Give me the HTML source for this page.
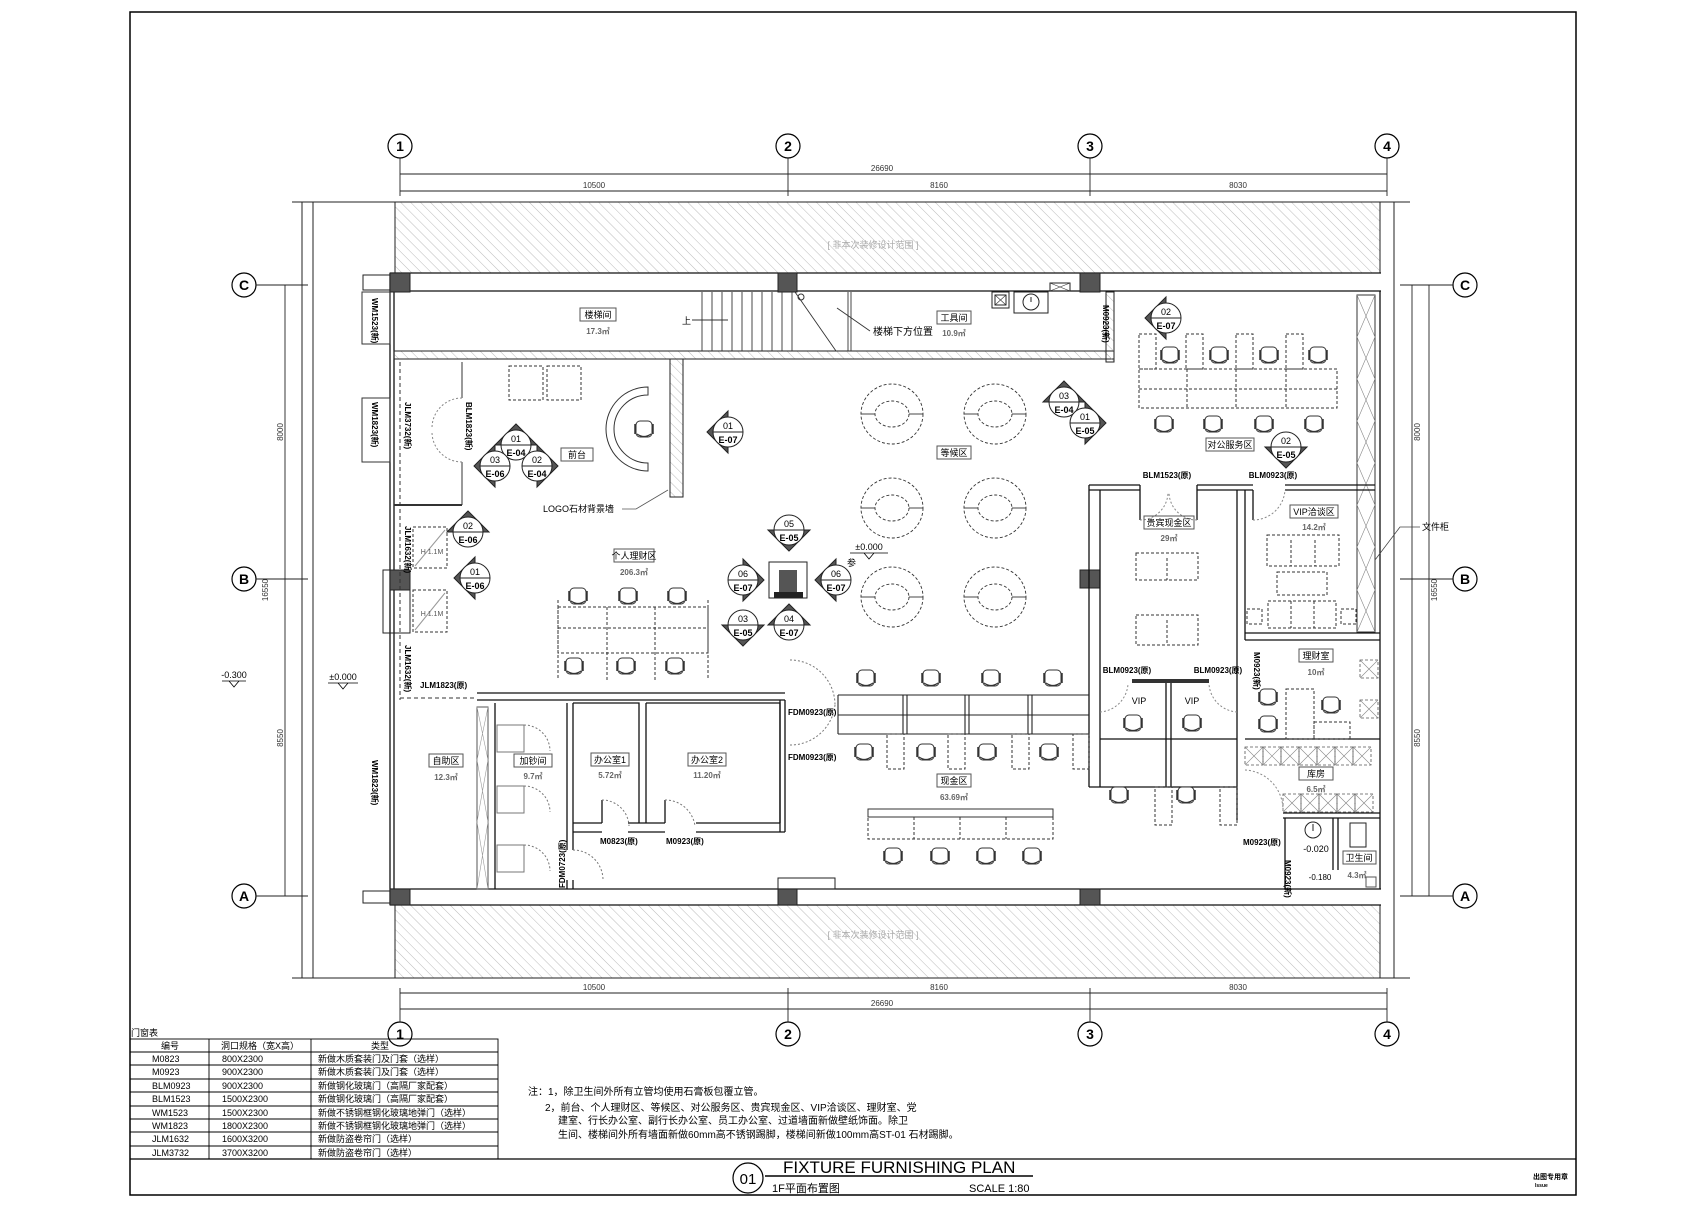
<!DOCTYPE html>
<html><head><meta charset="utf-8"><style>
html,body{margin:0;padding:0;background:#fff;}
svg{display:block;}
text{font-family:"Liberation Sans","Noto Sans CJK SC",sans-serif;}
</style></head><body>
<svg width="1707" height="1207" viewBox="0 0 1707 1207" xmlns="http://www.w3.org/2000/svg">
<defs>
<pattern id="h" width="7" height="7" patternUnits="userSpaceOnUse" patternTransform="rotate(-45)"><line x1="0" y1="0" x2="0" y2="7" stroke="#aaa" stroke-width="0.8"/></pattern>
<g id="ch"><rect x="-8" y="-8" width="16" height="16" rx="4" fill="#fff" stroke="#333" stroke-width="1"/><path d="M-7,5 Q0,10 7,5" fill="none" stroke="#333" stroke-width="1.2"/><line x1="-9" y1="-5" x2="-9" y2="5" stroke="#333" stroke-width="1.5"/><line x1="9" y1="-5" x2="9" y2="5" stroke="#333" stroke-width="1.5"/></g>
<g id="wt"><ellipse cx="0" cy="0" rx="31" ry="30" fill="none" stroke="#333" stroke-width="0.9" stroke-dasharray="3,2"/><ellipse cx="0" cy="0" rx="17" ry="13" fill="none" stroke="#333" stroke-width="0.9" stroke-dasharray="3,2"/><line x1="-31" y1="0" x2="-17" y2="0" stroke="#333" stroke-width="0.9"/><line x1="17" y1="0" x2="31" y2="0" stroke="#333" stroke-width="0.9"/></g>
<g id="xb"><rect x="0" y="0" width="18" height="18" fill="none" stroke="#555" stroke-width="0.8" stroke-dasharray="3,2"/><path d="M0,0L18,18M18,0L0,18" stroke="#888" stroke-width="0.6"/></g>
</defs>

<!-- frame -->
<rect x="130" y="12" width="1446" height="1183" fill="none" stroke="#000" stroke-width="1.5"/>
<line x1="130" y1="1159" x2="1576" y2="1159" stroke="#000" stroke-width="1.2"/>

<!-- slab outline -->
<g stroke="#222" stroke-width="1" fill="none">
<line x1="292" y1="202" x2="1410" y2="202"/>
<line x1="292" y1="978" x2="1410" y2="978"/>
<line x1="302" y1="202" x2="302" y2="978"/>
<line x1="313" y1="202" x2="313" y2="978"/>
<line x1="1394" y1="202" x2="1394" y2="978"/>
</g>
<rect x="395" y="202" width="985" height="71" fill="url(#h)" stroke="#222" stroke-width="1"/>
<rect x="395" y="905" width="985" height="73" fill="url(#h)" stroke="#222" stroke-width="1"/>
<text x="873" y="248" font-size="9" fill="#aaa" text-anchor="middle">[ 非本次装修设计范围 ]</text>
<text x="873" y="938" font-size="9" fill="#aaa" text-anchor="middle">[ 非本次装修设计范围 ]</text>

<!-- grid bubbles -->
<g stroke="#000" stroke-width="1.2" fill="#fff">
<circle cx="400" cy="146" r="12"/><circle cx="788" cy="146" r="12"/><circle cx="1090" cy="146" r="12"/><circle cx="1387" cy="146" r="12"/>
<circle cx="400" cy="1034" r="12"/><circle cx="788" cy="1034" r="12"/><circle cx="1090" cy="1034" r="12"/><circle cx="1387" cy="1034" r="12"/>
<circle cx="244" cy="285" r="12"/><circle cx="244" cy="579" r="12"/><circle cx="244" cy="896" r="12"/>
<circle cx="1465" cy="285" r="12"/><circle cx="1465" cy="579" r="12"/><circle cx="1465" cy="896" r="12"/>
</g>
<g font-size="14" font-weight="bold" text-anchor="middle">
<text x="400" y="151">1</text><text x="788" y="151">2</text><text x="1090" y="151">3</text><text x="1387" y="151">4</text>
<text x="400" y="1039">1</text><text x="788" y="1039">2</text><text x="1090" y="1039">3</text><text x="1387" y="1039">4</text>
<text x="244" y="290">C</text><text x="244" y="584">B</text><text x="244" y="901">A</text>
<text x="1465" y="290">C</text><text x="1465" y="584">B</text><text x="1465" y="901">A</text>
</g>
<g stroke="#222" stroke-width="0.9">
<line x1="400" y1="158" x2="400" y2="196"/><line x1="788" y1="158" x2="788" y2="196"/><line x1="1090" y1="158" x2="1090" y2="196"/><line x1="1387" y1="158" x2="1387" y2="196"/>
<line x1="400" y1="988" x2="400" y2="1022"/><line x1="788" y1="988" x2="788" y2="1022"/><line x1="1090" y1="988" x2="1090" y2="1022"/><line x1="1387" y1="988" x2="1387" y2="1022"/>
<line x1="400" y1="174" x2="1387" y2="174"/><line x1="400" y1="191" x2="1387" y2="191"/>
<line x1="400" y1="993" x2="1387" y2="993"/><line x1="400" y1="1009" x2="1387" y2="1009"/>
<line x1="256" y1="285" x2="308" y2="285"/><line x1="256" y1="579" x2="308" y2="579"/><line x1="256" y1="896" x2="308" y2="896"/>
<line x1="1400" y1="285" x2="1453" y2="285"/><line x1="1400" y1="579" x2="1453" y2="579"/><line x1="1400" y1="896" x2="1453" y2="896"/>
<line x1="285" y1="285" x2="285" y2="896"/><line x1="302" y1="285" x2="302" y2="896"/>
<line x1="1412" y1="285" x2="1412" y2="896"/><line x1="1429" y1="285" x2="1429" y2="896"/>
</g>
<g font-size="8" fill="#333" text-anchor="middle">
<text x="882" y="171">26690</text><text x="594" y="188">10500</text><text x="939" y="188">8160</text><text x="1238" y="188">8030</text>
<text x="594" y="990">10500</text><text x="939" y="990">8160</text><text x="1238" y="990">8030</text><text x="882" y="1006">26690</text>
<text transform="translate(283,432) rotate(-90)">8000</text><text transform="translate(268,590) rotate(-90)">16550</text><text transform="translate(283,738) rotate(-90)">8550</text>
<text transform="translate(1420,432) rotate(-90)">8000</text><text transform="translate(1437,590) rotate(-90)">16550</text><text transform="translate(1420,738) rotate(-90)">8550</text>
</g>
<text x="234" y="678" font-size="9" text-anchor="middle">-0.300</text>
<path d="M222,681H246M229,681L234,687L239,681" stroke="#000" fill="none" stroke-width="0.8"/>
<text x="343" y="680" font-size="9" text-anchor="middle">±0.000</text>
<path d="M328,683H358M338,683L343,689L348,683" stroke="#000" fill="none" stroke-width="0.8"/>

<!-- main walls -->
<g stroke="#111" stroke-width="1.3" fill="none">
<line x1="390" y1="273" x2="1381" y2="273"/><line x1="393" y1="291" x2="1381" y2="291"/>
<line x1="390" y1="889" x2="1381" y2="889"/><line x1="390" y1="905" x2="1381" y2="905"/>
<line x1="390" y1="273" x2="390" y2="905"/><line x1="394" y1="291" x2="394" y2="889"/>
<line x1="1380" y1="291" x2="1380" y2="889"/>
</g>
<!-- columns -->
<g fill="#555" stroke="#222">
<rect x="390" y="273" width="20" height="19"/><rect x="778" y="273" width="19" height="19"/><rect x="1080" y="273" width="20" height="19"/>
<rect x="390" y="889" width="20" height="16"/><rect x="778" y="889" width="19" height="16"/><rect x="1080" y="889" width="20" height="16"/>
<rect x="390" y="570" width="20" height="20"/><rect x="1080" y="570" width="20" height="18"/>
</g>
<g fill="none" stroke="#222" stroke-width="1">
<rect x="363" y="275" width="27" height="15"/><rect x="363" y="891" width="27" height="12"/>
<rect x="383" y="570" width="27" height="63"/><rect x="778" y="878" width="57" height="11"/>
<rect x="1050" y="283" width="20" height="8"/>
</g>
<path d="M1050,283L1070,291M1070,283L1050,291" stroke="#333" stroke-width="0.6"/>

<!-- stair room -->
<rect x="394" y="351" width="720" height="8" fill="url(#h)" stroke="#222"/>
<rect x="1106" y="292" width="8" height="70" fill="url(#h)" stroke="#222"/>
<g stroke="#333" stroke-width="0.9">
<line x1="702" y1="292" x2="702" y2="351"/><line x1="712" y1="292" x2="712" y2="351"/><line x1="722" y1="292" x2="722" y2="351"/><line x1="732" y1="292" x2="732" y2="351"/><line x1="742" y1="292" x2="742" y2="351"/><line x1="752" y1="292" x2="752" y2="351"/><line x1="762" y1="292" x2="762" y2="351"/><line x1="772" y1="292" x2="772" y2="351"/><line x1="782" y1="292" x2="782" y2="351"/><line x1="792" y1="292" x2="792" y2="351"/>
<line x1="848" y1="292" x2="848" y2="351"/><line x1="851" y1="292" x2="851" y2="351"/>
<line x1="795" y1="292" x2="836" y2="351"/>
<line x1="692" y1="320" x2="728" y2="320"/>
<line x1="837" y1="308" x2="870" y2="331"/>
</g>
<circle cx="801" cy="297" r="3" fill="none" stroke="#333"/>
<text x="682" y="324" font-size="9">上</text>
<rect x="580" y="308" width="36" height="13" fill="none" stroke="#555"/>
<text x="598" y="318" font-size="9" text-anchor="middle">楼梯间</text>
<text x="598" y="334" font-size="8" fill="#666" font-weight="bold" text-anchor="middle">17.3㎡</text>
<text x="873" y="335" font-size="10">楼梯下方位置</text>
<rect x="937" y="311" width="34" height="13" fill="none" stroke="#555"/>
<text x="954" y="321" font-size="9" text-anchor="middle">工具间</text>
<text x="954" y="336" font-size="8" fill="#666" font-weight="bold" text-anchor="middle">10.9㎡</text>
<rect x="992" y="292" width="17" height="16" fill="none" stroke="#222"/><rect x="995" y="295" width="11" height="10" fill="none" stroke="#222"/>
<path d="M995,295L1006,305M1006,295L995,305" stroke="#333" stroke-width="0.6"/>
<rect x="1014" y="292" width="34" height="21" fill="none" stroke="#222"/><circle cx="1031" cy="302" r="8" fill="none" stroke="#222"/><line x1="1031" y1="297" x2="1031" y2="302" stroke="#222"/>
<text transform="translate(1103,305) rotate(90)" font-size="8" font-weight="bold">M0923(新)</text>
<path d="M1114,292 L1114,362" stroke="#222"/>

<!-- left zone -->
<g stroke="#333" stroke-width="1" fill="none">
<line x1="400" y1="362" x2="400" y2="700" stroke-dasharray="4,3"/>
<line x1="462" y1="362" x2="462" y2="398"/><line x1="462" y1="462" x2="462" y2="505"/>
<line x1="394" y1="505" x2="462" y2="505" stroke-width="2"/>
<path d="M462,398 A30,30 0 0 0 432,428 M462,462 A30,30 0 0 1 432,432" stroke="#888" stroke-dasharray="2,2"/>
<rect x="362" y="398" width="28" height="64"/>
<rect x="362" y="292" width="28" height="52"/>
<rect x="413" y="527" width="34" height="41" stroke-dasharray="3,2"/><rect x="413" y="590" width="34" height="42" stroke-dasharray="3,2"/>
<line x1="415" y1="566" x2="445" y2="530" stroke="#999"/><line x1="415" y1="630" x2="445" y2="593" stroke="#999"/>
</g>
<text x="432" y="554" font-size="7" text-anchor="middle" fill="#555">H 1.1M</text>
<text x="432" y="616" font-size="7" text-anchor="middle" fill="#555">H 1.1M</text>
<g font-size="8" font-weight="bold">
<text transform="translate(372,298) rotate(90)">WM1523(新)</text>
<text transform="translate(372,402) rotate(90)">WM1823(新)</text>
<text transform="translate(405,402) rotate(90)">JLM3732(新)</text>
<text transform="translate(466,402) rotate(90)">BLM1823(新)</text>
<text transform="translate(405,526) rotate(90)">JLM1632(新)</text>
<text transform="translate(405,645) rotate(90)">JLM1632(新)</text>
<text transform="translate(372,760) rotate(90)">WM1823(新)</text>
<text x="420" y="688">JLM1823(原)</text>
</g>

<!-- reception -->
<rect x="670" y="359" width="13" height="138" fill="url(#h)" stroke="#222"/>
<g fill="none" stroke="#333" stroke-dasharray="3,2">
<rect x="509" y="366" width="34" height="34"/><rect x="547" y="366" width="34" height="34"/>
</g>
<path d="M648,387 A42,42 0 0 0 648,471 L648,463 A34,34 0 0 1 648,395 Z" fill="none" stroke="#333"/>
<use href="#ch" x="644" y="429"/>
<rect x="561" y="448" width="32" height="13" fill="none" stroke="#555"/>
<text x="577" y="458" font-size="9" text-anchor="middle">前台</text>
<text x="543" y="512" font-size="9">LOGO石材背景墙</text>
<path d="M622,509L636,509L668,490" stroke="#555" fill="none" stroke-width="0.8"/>
<rect x="348" y="400" width="1" height="1" fill="none"/>

<!-- personal area -->
<rect x="614" y="549" width="40" height="13" fill="none" stroke="#555"/>
<text x="634" y="559" font-size="9" text-anchor="middle">个人理财区</text>
<text x="634" y="575" font-size="8" fill="#666" font-weight="bold" text-anchor="middle">206.3㎡</text>
<g fill="none" stroke="#333" stroke-dasharray="3,2">
<rect x="558" y="607" width="150" height="46"/><line x1="558" y1="628" x2="708" y2="628"/><line x1="607" y1="607" x2="607" y2="680"/><line x1="655" y1="607" x2="655" y2="680"/><line x1="558" y1="600" x2="558" y2="680"/><line x1="708" y1="600" x2="708" y2="680"/>
</g>
<use href="#ch" x="578" y="596"/><use href="#ch" x="628" y="596"/><use href="#ch" x="677" y="596"/>
<use href="#ch" x="574" y="666"/><use href="#ch" x="626" y="666"/><use href="#ch" x="675" y="666"/>

<!-- center column -->
<rect x="769" y="562" width="38" height="36" fill="#fff" stroke="#222"/>
<rect x="779" y="570" width="18" height="22" fill="#555"/>
<path d="M774,592H803V598H774Z" fill="#222"/>
<text x="847" y="566" font-size="9">参</text>
<text x="869" y="550" font-size="9" text-anchor="middle">±0.000</text>
<path d="M850,553H888M864,553L869,559L874,553" stroke="#000" fill="none" stroke-width="0.8"/>

<!-- waiting -->
<use href="#wt" x="892" y="414"/><use href="#wt" x="995" y="414"/>
<use href="#wt" x="892" y="508"/><use href="#wt" x="995" y="508"/>
<use href="#wt" x="892" y="597"/><use href="#wt" x="995" y="597"/>
<rect x="937" y="446" width="34" height="13" fill="none" stroke="#555"/>
<text x="954" y="456" font-size="9" text-anchor="middle">等候区</text>

<!-- corporate service -->
<g fill="none" stroke="#333" stroke-dasharray="3,2">
<rect x="1139" y="369" width="198" height="39"/><line x1="1139" y1="389" x2="1337" y2="389"/>
<line x1="1187" y1="369" x2="1187" y2="408"/><line x1="1236" y1="369" x2="1236" y2="408"/><line x1="1286" y1="369" x2="1286" y2="408"/>
<rect x="1139" y="334" width="17" height="35"/><rect x="1186" y="334" width="17" height="35"/><rect x="1236" y="334" width="17" height="35"/><rect x="1286" y="334" width="17" height="35"/>
</g>
<use href="#ch" x="1170" y="355"/><use href="#ch" x="1219" y="355"/><use href="#ch" x="1269" y="355"/><use href="#ch" x="1318" y="355"/>
<use href="#ch" x="1164" y="424"/><use href="#ch" x="1213" y="424"/><use href="#ch" x="1264" y="424"/><use href="#ch" x="1314" y="424"/>
<rect x="1206" y="438" width="48" height="13" fill="none" stroke="#555"/>
<text x="1230" y="448" font-size="9" text-anchor="middle">对公服务区</text>
<!-- cabinet strip right -->
<rect x="1357" y="295" width="18" height="337" fill="none" stroke="#333"/>
<g stroke="#888" stroke-width="0.6">
<path d="M1357,295L1375,337M1375,295L1357,337M1357,337L1375,379M1375,337L1357,379M1357,379L1375,421M1375,379L1357,421M1357,421L1375,463M1375,421L1357,463M1357,463L1375,505M1375,463L1357,505M1357,505L1375,547M1375,505L1357,547M1357,547L1375,590M1375,547L1357,590M1357,590L1375,632M1375,590L1357,632"/>
</g>
<text x="1422" y="530" font-size="9">文件柜</text>
<path d="M1420,527H1400L1375,560" stroke="#444" fill="none" stroke-width="0.8"/>

<!-- VIP cash zone walls -->
<g stroke="#111" stroke-width="1.3" fill="none">
<path d="M1089,485H1140M1197,485H1253M1285,485H1375"/>
<path d="M1089,490H1140M1197,490H1253M1285,490H1375"/>
<path d="M1089,485V787M1100,490V787"/>
<path d="M1140,485V520M1197,485V520"/>
<path d="M1237,490V820M1245,490V640"/>
<path d="M1245,633H1380M1245,640H1380"/>
<path d="M1245,739H1380M1100,739H1237M1089,787H1237"/>
<path d="M1166,682V787M1171,682V787"/>
<path d="M1253,490V520"/>
</g>
<path d="M1132,681H1209" stroke="#333" stroke-width="4"/>
<path d="M1140,520 A28,28 0 0 0 1168,492 M1197,520 A28,28 0 0 1 1169,492 M1253,520 A32,32 0 0 0 1285,490" fill="none" stroke="#888" stroke-dasharray="2,2"/>
<g font-size="8" font-weight="bold" text-anchor="middle">
<text x="1167" y="478">BLM1523(原)</text><text x="1273" y="478">BLM0923(原)</text>
<text x="1127" y="673">BLM0923(原)</text><text x="1218" y="673">BLM0923(原)</text>
</g>
<rect x="1144" y="516" width="50" height="13" fill="none" stroke="#555"/>
<text x="1169" y="526" font-size="9" text-anchor="middle">贵宾现金区</text>
<text x="1169" y="541" font-size="8" fill="#666" font-weight="bold" text-anchor="middle">29㎡</text>
<g fill="none" stroke="#333" stroke-dasharray="3,2">
<rect x="1136" y="553" width="62" height="27"/><line x1="1167" y1="558" x2="1167" y2="580"/>
<rect x="1136" y="615" width="62" height="30"/><line x1="1167" y1="620" x2="1167" y2="645"/>
<rect x="1267" y="535" width="72" height="31"/><line x1="1291" y1="540" x2="1291" y2="566"/><line x1="1315" y1="540" x2="1315" y2="566"/>
<rect x="1277" y="572" width="50" height="23"/>
<rect x="1268" y="601" width="68" height="27"/><line x1="1291" y1="601" x2="1291" y2="628"/><line x1="1314" y1="601" x2="1314" y2="628"/>
<rect x="1247" y="609" width="15" height="15"/><rect x="1341" y="609" width="15" height="15"/>
</g>
<rect x="1290" y="505" width="48" height="13" fill="none" stroke="#555"/>
<text x="1314" y="515" font-size="9" text-anchor="middle">VIP洽谈区</text>
<text x="1314" y="530" font-size="8" fill="#666" font-weight="bold" text-anchor="middle">14.2㎡</text>

<!-- finance room / storage / wc -->
<rect x="1299" y="649" width="34" height="13" fill="none" stroke="#555"/>
<text x="1316" y="659" font-size="9" text-anchor="middle">理财室</text>
<text x="1316" y="675" font-size="8" fill="#666" font-weight="bold" text-anchor="middle">10㎡</text>
<use href="#ch" x="1268" y="697"/><use href="#ch" x="1268" y="724"/><use href="#ch" x="1331" y="705"/>
<g fill="none" stroke="#333" stroke-dasharray="3,2"><rect x="1286" y="689" width="28" height="50"/><rect x="1314" y="722" width="36" height="17"/></g>
<text transform="translate(1254,652) rotate(90)" font-size="8" font-weight="bold">M0923(新)</text>
<use href="#xb" x="1245" y="747"/><use href="#xb" x="1263" y="747"/><use href="#xb" x="1281" y="747"/><use href="#xb" x="1299" y="747"/><use href="#xb" x="1317" y="747"/><use href="#xb" x="1335" y="747"/><use href="#xb" x="1353" y="747"/>
<use href="#xb" x="1283" y="794"/><use href="#xb" x="1301" y="794"/><use href="#xb" x="1319" y="794"/><use href="#xb" x="1337" y="794"/><use href="#xb" x="1355" y="794"/>
<use href="#xb" x="1360" y="660"/><use href="#xb" x="1360" y="700"/>
<rect x="1299" y="767" width="34" height="13" fill="none" stroke="#555"/>
<text x="1316" y="777" font-size="9" text-anchor="middle">库房</text>
<text x="1316" y="792" font-size="8" fill="#666" font-weight="bold" text-anchor="middle">6.5㎡</text>
<path d="M1245,770 A40,40 0 0 1 1283,810" fill="none" stroke="#888" stroke-dasharray="2,2"/>
<g stroke="#111" stroke-width="1.3" fill="none">
<path d="M1283,813H1380M1283,818H1380M1285,818V889M1333,818V870M1338,818V870"/>
</g>
<circle cx="1313" cy="830" r="8" fill="none" stroke="#222"/><line x1="1313" y1="824" x2="1313" y2="831" stroke="#222"/>
<rect x="1350" y="823" width="16" height="24" fill="none" stroke="#222"/>
<text x="1316" y="852" font-size="9" text-anchor="middle">-0.020</text>
<rect x="1343" y="851" width="33" height="13" fill="none" stroke="#555"/>
<text x="1359" y="861" font-size="9" text-anchor="middle">卫生间</text>
<text x="1357" y="878" font-size="8" fill="#666" font-weight="bold" text-anchor="middle">4.3㎡</text>
<text x="1320" y="880" font-size="8" text-anchor="middle">-0.180</text>
<text x="1243" y="845" font-size="8" font-weight="bold">M0923(原)</text>
<text transform="translate(1285,860) rotate(90)" font-size="8" font-weight="bold">M0923(新)</text>
<rect x="1366" y="877" width="10" height="10" fill="none" stroke="#555"/>

<!-- VIP rooms -->
<text x="1139" y="704" font-size="9" text-anchor="middle">VIP</text><text x="1192" y="704" font-size="9" text-anchor="middle">VIP</text>
<path d="M1100,712 A30,30 0 0 0 1128,684 M1237,712 A30,30 0 0 1 1209,684" fill="none" stroke="#888" stroke-dasharray="2,2"/>
<use href="#ch" x="1133" y="723"/><use href="#ch" x="1192" y="723"/>
<use href="#ch" x="1119" y="795"/><use href="#ch" x="1186" y="795"/>
<g fill="none" stroke="#333" stroke-dasharray="3,2"><rect x="1155" y="787" width="17" height="38"/><rect x="1220" y="787" width="17" height="38"/></g>

<!-- cash counter -->
<g stroke="#222" stroke-width="1.1" fill="none">
<path d="M838,695H1089M838,715H1089M838,734H1089M838,695V734"/>
<path d="M903,695V734M907,695V734M965,695V734M969,695V734M1028,695V734M1032,695V734"/>
</g>
<use href="#ch" x="866" y="678"/><use href="#ch" x="931" y="678"/><use href="#ch" x="991" y="678"/><use href="#ch" x="1053" y="678"/>
<use href="#ch" x="864" y="752"/><use href="#ch" x="926" y="752"/><use href="#ch" x="987" y="752"/><use href="#ch" x="1049" y="752"/>
<g fill="none" stroke="#333" stroke-dasharray="3,2"><rect x="887" y="734" width="17" height="35"/><rect x="948" y="734" width="17" height="35"/><rect x="1012" y="734" width="17" height="35"/><rect x="1073" y="734" width="16" height="35"/></g>
<rect x="937" y="774" width="34" height="13" fill="none" stroke="#555"/>
<text x="954" y="784" font-size="9" text-anchor="middle">现金区</text>
<text x="954" y="800" font-size="8" fill="#666" font-weight="bold" text-anchor="middle">63.69㎡</text>
<rect x="868" y="809" width="185" height="8" fill="none" stroke="#333"/>
<g fill="none" stroke="#333" stroke-dasharray="3,2"><rect x="868" y="817" width="185" height="22"/><line x1="914" y1="817" x2="914" y2="839"/><line x1="960" y1="817" x2="960" y2="839"/><line x1="1006" y1="817" x2="1006" y2="839"/></g>
<use href="#ch" x="893" y="856"/><use href="#ch" x="940" y="856"/><use href="#ch" x="986" y="856"/><use href="#ch" x="1032" y="856"/>

<!-- offices lower left -->
<g stroke="#111" stroke-width="1.3" fill="none">
<path d="M477,693H785M477,700H785"/>
<path d="M495,703V889M567,703V850M573,703V850M567,880V889M573,880V889"/>
<path d="M573,703H639V823M646,703V823M646,703H780V823"/>
<path d="M573,823H602M628,823H665M696,823H780M573,832H602M628,832H665M696,832H785"/>
<path d="M780,700V832M785,700V832"/>
<path d="M602,823V800M665,823V800"/>
</g>
<rect x="477" y="707" width="11" height="182" fill="none" stroke="#555"/>
<path d="M477,707L488,760M488,707L477,760M477,760L488,822M488,760L477,822M477,822L488,889M488,822L477,889" stroke="#999" stroke-width="0.6"/>
<line x1="400" y1="698" x2="477" y2="698" stroke="#333" stroke-dasharray="4,3"/>
<g fill="none" stroke="#777">
<rect x="497" y="725" width="27" height="27"/><rect x="497" y="786" width="27" height="27"/><rect x="497" y="845" width="27" height="27"/>
<path d="M524,725A26,26 0 0 1 550,751M524,786A26,26 0 0 1 550,812M524,845A26,26 0 0 1 550,871" stroke-dasharray="2,2"/>
<path d="M602,800A27,27 0 0 1 629,826M665,800A30,30 0 0 1 695,826M573,850A30,30 0 0 1 603,880" stroke-dasharray="2,2"/>
<path d="M790,660A45,45 0 0 1 835,705M790,745A45,45 0 0 0 835,705M790,790A40,40 0 0 1 790,790" stroke-dasharray="2,2"/>
</g>
<rect x="429" y="754" width="34" height="13" fill="none" stroke="#555"/>
<text x="446" y="764" font-size="9" text-anchor="middle">自助区</text>
<text x="446" y="780" font-size="8" fill="#666" font-weight="bold" text-anchor="middle">12.3㎡</text>
<rect x="514" y="754" width="38" height="13" fill="none" stroke="#555"/>
<text x="533" y="764" font-size="9" text-anchor="middle">加钞间</text>
<text x="533" y="779" font-size="8" fill="#666" font-weight="bold" text-anchor="middle">9.7㎡</text>
<rect x="591" y="753" width="38" height="13" fill="none" stroke="#555"/>
<text x="610" y="763" font-size="9" text-anchor="middle">办公室1</text>
<text x="610" y="778" font-size="8" fill="#666" font-weight="bold" text-anchor="middle">5.72㎡</text>
<rect x="688" y="753" width="38" height="13" fill="none" stroke="#555"/>
<text x="707" y="763" font-size="9" text-anchor="middle">办公室2</text>
<text x="707" y="778" font-size="8" fill="#666" font-weight="bold" text-anchor="middle">11.20㎡</text>
<g font-size="8" font-weight="bold">
<text x="600" y="844">M0823(原)</text><text x="666" y="844">M0923(原)</text>
<text x="788" y="715">FDM0923(原)</text><text x="788" y="760">FDM0923(原)</text>
<text transform="translate(565,888) rotate(-90)">FDM0723(原)</text>
</g>

<!-- index markers -->
<g stroke="#222" stroke-width="1">
<g transform="translate(516,445)"><polygon points="-21,0 0,-21 21,0" fill="#555"/><circle r="15" fill="#fff"/><line x1="-15" y1="0" x2="15" y2="0"/></g>
<g transform="translate(495,466)"><polygon points="0,-21 -21,0 0,21" fill="#555"/><circle r="15" fill="#fff"/><line x1="-15" y1="0" x2="15" y2="0"/></g>
<g transform="translate(537,466)"><polygon points="0,-21 21,0 0,21" fill="#555"/><circle r="15" fill="#fff"/><line x1="-15" y1="0" x2="15" y2="0"/></g>
<g transform="translate(728,432)"><polygon points="0,-21 -21,0 0,21" fill="#555"/><circle r="15" fill="#fff"/><line x1="-15" y1="0" x2="15" y2="0"/></g>
<g transform="translate(468,532)"><polygon points="-21,0 0,-21 21,0" fill="#555"/><circle r="15" fill="#fff"/><line x1="-15" y1="0" x2="15" y2="0"/></g>
<g transform="translate(475,578)"><polygon points="0,-21 -21,0 0,21" fill="#555"/><circle r="15" fill="#fff"/><line x1="-15" y1="0" x2="15" y2="0"/></g>
<g transform="translate(789,530)"><polygon points="-21,0 0,21 21,0" fill="#555"/><circle r="15" fill="#fff"/><line x1="-15" y1="0" x2="15" y2="0"/></g>
<g transform="translate(743,580)"><polygon points="0,-21 21,0 0,21" fill="#555"/><circle r="15" fill="#fff"/><line x1="-15" y1="0" x2="15" y2="0"/></g>
<g transform="translate(836,580)"><polygon points="0,-21 -21,0 0,21" fill="#555"/><circle r="15" fill="#fff"/><line x1="-15" y1="0" x2="15" y2="0"/></g>
<g transform="translate(743,625)"><polygon points="-21,0 0,21 21,0" fill="#555"/><circle r="15" fill="#fff"/><line x1="-15" y1="0" x2="15" y2="0"/></g>
<g transform="translate(789,625)"><polygon points="-21,0 0,-21 21,0" fill="#555"/><circle r="15" fill="#fff"/><line x1="-15" y1="0" x2="15" y2="0"/></g>
<g transform="translate(1166,318)"><polygon points="0,-21 -21,0 0,21" fill="#555"/><circle r="15" fill="#fff"/><line x1="-15" y1="0" x2="15" y2="0"/></g>
<g transform="translate(1064,402)"><polygon points="-21,0 0,-21 21,0" fill="#555"/><circle r="15" fill="#fff"/><line x1="-15" y1="0" x2="15" y2="0"/></g>
<g transform="translate(1085,423)"><polygon points="0,-21 21,0 0,21" fill="#555"/><circle r="15" fill="#fff"/><line x1="-15" y1="0" x2="15" y2="0"/></g>
<g transform="translate(1286,447)"><polygon points="-21,0 0,21 21,0" fill="#555"/><circle r="15" fill="#fff"/><line x1="-15" y1="0" x2="15" y2="0"/></g>
</g>
<g font-size="9" text-anchor="middle">
<text x="516" y="442">01</text><text x="516" y="456" font-weight="bold">E-04</text>
<text x="495" y="463">03</text><text x="495" y="477" font-weight="bold">E-06</text>
<text x="537" y="463">02</text><text x="537" y="477" font-weight="bold">E-04</text>
<text x="728" y="429">01</text><text x="728" y="443" font-weight="bold">E-07</text>
<text x="468" y="529">02</text><text x="468" y="543" font-weight="bold">E-06</text>
<text x="475" y="575">01</text><text x="475" y="589" font-weight="bold">E-06</text>
<text x="789" y="527">05</text><text x="789" y="541" font-weight="bold">E-05</text>
<text x="743" y="577">06</text><text x="743" y="591" font-weight="bold">E-07</text>
<text x="836" y="577">06</text><text x="836" y="591" font-weight="bold">E-07</text>
<text x="743" y="622">03</text><text x="743" y="636" font-weight="bold">E-05</text>
<text x="789" y="622">04</text><text x="789" y="636" font-weight="bold">E-07</text>
<text x="1166" y="315">02</text><text x="1166" y="329" font-weight="bold">E-07</text>
<text x="1064" y="399">03</text><text x="1064" y="413" font-weight="bold">E-04</text>
<text x="1085" y="420">01</text><text x="1085" y="434" font-weight="bold">E-05</text>
<text x="1286" y="444">02</text><text x="1286" y="458" font-weight="bold">E-05</text>
</g>

<!-- door table -->
<text x="131" y="1036" font-size="9">门窗表</text>
<g stroke="#000" stroke-width="0.9" fill="none">
<rect x="130" y="1039" width="368" height="120"/>
<path d="M130,1052H498M130,1065H498M130,1079H498M130,1092H498M130,1106H498M130,1119H498M130,1132H498M130,1146H498"/>
<path d="M209,1039V1159M311,1039V1159"/>
</g>
<g font-size="9">
<text x="170" y="1049" text-anchor="middle">编号</text><text x="260" y="1049" text-anchor="middle">洞口规格（宽X高）</text><text x="380" y="1049" text-anchor="middle">类型</text>
<text x="152" y="1062">M0823</text><text x="222" y="1062">800X2300</text><text x="318" y="1062">新做木质套装门及门套（选样）</text>
<text x="152" y="1075">M0923</text><text x="222" y="1075">900X2300</text><text x="318" y="1075">新做木质套装门及门套（选样）</text>
<text x="152" y="1089">BLM0923</text><text x="222" y="1089">900X2300</text><text x="318" y="1089">新做钢化玻璃门（高隔厂家配套）</text>
<text x="152" y="1102">BLM1523</text><text x="222" y="1102">1500X2300</text><text x="318" y="1102">新做钢化玻璃门（高隔厂家配套）</text>
<text x="152" y="1116">WM1523</text><text x="222" y="1116">1500X2300</text><text x="318" y="1116">新做不锈钢框钢化玻璃地弹门（选样）</text>
<text x="152" y="1129">WM1823</text><text x="222" y="1129">1800X2300</text><text x="318" y="1129">新做不锈钢框钢化玻璃地弹门（选样）</text>
<text x="152" y="1142">JLM1632</text><text x="222" y="1142">1600X3200</text><text x="318" y="1142">新做防盗卷帘门（选样）</text>
<text x="152" y="1156">JLM3732</text><text x="222" y="1156">3700X3200</text><text x="318" y="1156">新做防盗卷帘门（选样）</text>
</g>

<!-- notes -->
<g font-size="10">
<text x="528" y="1095">注：1，除卫生间外所有立管均使用石膏板包覆立管。</text>
<text x="545" y="1111">2，前台、个人理财区、等候区、对公服务区、贵宾现金区、VIP洽谈区、理财室、党</text>
<text x="558" y="1124">建室、行长办公室、副行长办公室、员工办公室、过道墙面新做壁纸饰面。除卫</text>
<text x="558" y="1138">生间、楼梯间外所有墙面新做60mm高不锈钢踢脚，楼梯间新做100mm高ST-01 石材踢脚。</text>
</g>

<!-- title -->
<circle cx="748" cy="1178" r="15" fill="none" stroke="#000" stroke-width="1.2"/>
<text x="748" y="1184" font-size="15" text-anchor="middle">01</text>
<text x="783" y="1173" font-size="17">FIXTURE FURNISHING PLAN</text>
<line x1="765" y1="1176" x2="1033" y2="1176" stroke="#000" stroke-width="1.5"/>
<text x="772" y="1192" font-size="11">1F平面布置图</text>
<text x="969" y="1192" font-size="11">SCALE 1:80</text>
<text x="1533" y="1179" font-size="7" font-weight="bold">出图专用章</text>
<text x="1535" y="1187" font-size="5" font-weight="bold">Issue</text>
</svg>
</body></html>
